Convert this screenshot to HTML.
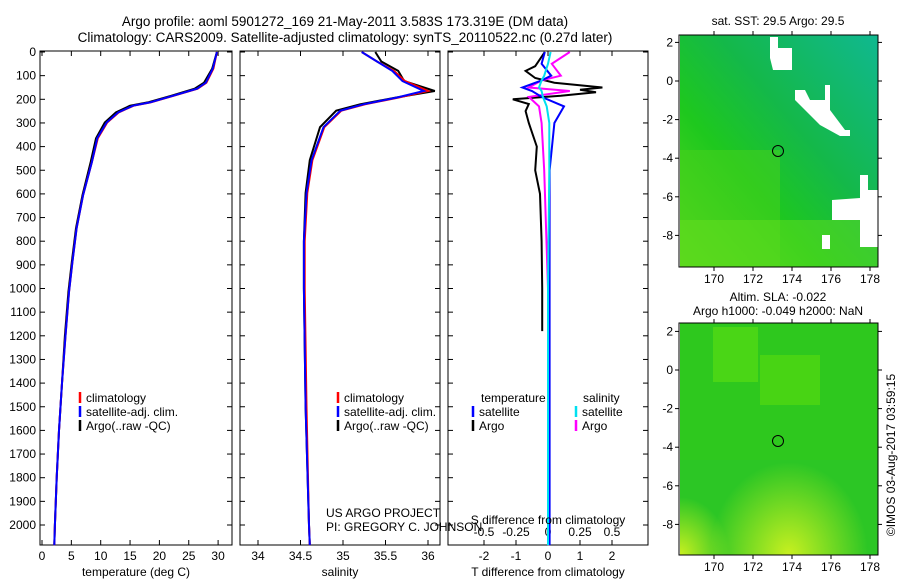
<!DOCTYPE html>
<html><head><meta charset="utf-8"><style>
body{margin:0;background:#fff;}
svg{display:block;font-family:"Liberation Sans",sans-serif;}
</style></head><body>
<svg id="fig" width="900" height="580" viewBox="0 0 900 580" xmlns="http://www.w3.org/2000/svg">
<defs>
<linearGradient id="g1" x1="0" y1="1" x2="1" y2="0">
<stop offset="0" stop-color="#5ad81c"/><stop offset="0.35" stop-color="#1ec81e"/><stop offset="0.6" stop-color="#14b84a"/><stop offset="1" stop-color="#10b890"/></linearGradient>
<radialGradient id="g2" cx="0.55" cy="1" r="0.4"><stop offset="0" stop-color="#c8f020"/><stop offset="1" stop-color="#c8f020" stop-opacity="0"/></radialGradient>
<radialGradient id="g3" cx="0" cy="1" r="0.25"><stop offset="0" stop-color="#c8f020"/><stop offset="1" stop-color="#c8f020" stop-opacity="0"/></radialGradient>
</defs>
<g id="titles" font-size="13.5" fill="#000">
<text x="345" y="26" text-anchor="middle">Argo profile: aoml 5901272_169 21-May-2011 3.583S 173.319E (DM data)</text>
<text x="345" y="42" text-anchor="middle">Climatology: CARS2009. Satellite-adjusted climatology: synTS_20110522.nc (0.27d later)</text>
</g>
<g id="panels"></g>
<g id="maps">
<g>
<text x="778" y="25" font-size="12" text-anchor="middle">sat. SST: 29.5 Argo: 29.5</text>
<rect x="680" y="35" width="198" height="232" fill="url(#g1)"/>
<rect x="680" y="150" width="100" height="117" fill="#4ad21c" opacity="0.5"/>
<rect x="680" y="220" width="198" height="47" fill="#6ae020" opacity="0.45"/>
<polygon points="770,37 778,37 778,48 792,48 792,70 773,70 770,58" fill="#fff"/>
<polygon points="795,90 805,90 810,100 825,100 825,85 830,85 830,110 845,130 850,130 850,136 840,136 820,125 805,110 795,100" fill="#fff"/>
<polygon points="860,175 868,175 868,190 878,190 878,247 860,247 860,220 832,220 832,200 860,198" fill="#fff"/>
<rect x="822" y="235" width="8" height="14" fill="#fff"/>
<circle cx="778" cy="151" r="5.5" fill="none" stroke="#000"/>
</g>
<g>
<text x="778" y="301" font-size="12" text-anchor="middle">Altim. SLA: -0.022</text>
<text x="778" y="315" font-size="12" text-anchor="middle">Argo h1000: -0.049 h2000: NaN</text>
<rect x="680" y="323" width="198" height="232" fill="#2ec81e"/>
<rect x="713" y="327" width="45" height="55" fill="#4ad616"/>
<rect x="760" y="355" width="60" height="50" fill="#48d414"/>
<rect x="680" y="460" width="198" height="95" fill="#2cc42a" opacity="0.6"/>
<rect x="680" y="323" width="198" height="232" fill="url(#g2)"/>
<rect x="680" y="323" width="198" height="232" fill="url(#g3)"/>
<circle cx="778" cy="441" r="5.5" fill="none" stroke="#000"/>
</g>
<text transform="translate(895,455) rotate(-90)" font-size="12" text-anchor="middle">©IMOS 03-Aug-2017 03:59:15</text>
</g>
</svg>
<script>
// Temperature profile data
const presT = [0,70,130,155,185,213,227,255,298,365,465,605,745,885,1015,1200,1400,1600,1800,2000,2085];
const tempArgo = [29.8,29.0,27.6,26.0,22.0,18.0,15.0,12.6,10.7,9.2,8.3,6.9,5.8,5.1,4.5,3.9,3.4,2.9,2.5,2.2,2.1];
const tempClim = [29.8,29.2,28.0,26.5,22.4,18.5,15.6,13.1,11.1,9.5,8.5,7.0,5.9,5.2,4.6,4.0,3.4,2.9,2.5,2.2,2.1];
const tempSat = [29.8,29.1,27.9,26.4,22.3,18.4,15.5,13.0,11.0,9.4,8.5,7.0,5.9,5.2,4.6,4.0,3.4,2.9,2.5,2.2,2.1];
// Salinity profile data
const presS = [0,40,80,123,165,193,221,248,318,457,596,800,1000,1500,2000,2085];
const salArgo = [35.38,35.45,35.65,35.72,36.08,35.62,35.2,34.92,34.73,34.61,34.56,34.54,34.54,34.56,34.6,34.61];
const salClim = [35.22,35.4,35.6,35.73,36.0,35.65,35.26,34.98,34.78,34.64,34.58,34.55,34.55,34.57,34.6,34.61];
const salSat = [35.22,35.4,35.58,35.7,35.95,35.63,35.24,34.97,34.77,34.63,34.57,34.54,34.54,34.56,34.6,34.61];
// Difference data
const presDT = [0,60,80,110,130,150,160,170,185,200,220,250,300,400,500,600,800,1000,1180];
const dTArgo = [-0.1,-0.4,-0.7,-0.4,0.2,1.7,1.0,1.5,0.4,-1.1,-0.6,-0.7,-0.6,-0.35,-0.4,-0.25,-0.2,-0.18,-0.18];
const presD = [0,50,100,120,150,165,190,230,300,500,1000,1500,2085];
const dTSat = [-0.1,-0.2,0.1,-0.2,-0.8,-0.5,-0.2,0.5,0.2,0.05,0.05,0.05,0.05];
const dSArgo = [0.17,0.03,0.1,-0.05,-0.15,0.17,-0.15,-0.07,-0.05,-0.03,0.0,0.01,0.005];
const dSSat = [0.02,0.0,-0.03,-0.05,-0.07,-0.05,-0.04,-0.01,0.01,0.01,0.0,0.0,0.0];
const yTicks = [0,100,200,300,400,500,600,700,800,900,1000,1100,1200,1300,1400,1500,1600,1700,1800,1900,2000];
const tTicks = [0,5,10,15,20,25,30];
const sTicks = [34,34.5,35,35.5,36];
const dTTicks = [-2,-1,0,1,2];
const dSTicks = [-0.5,-0.25,0,0.25,0.5];
const dSLabels = ['-0.5','-0.25','0','0.25','0.5'];

const NS='http://www.w3.org/2000/svg';
const root=document.getElementById('panels');
const top0=51, bot=545;
const yP = p => 52 + p*0.2365;
function mk(tag,attrs,parent){const e=document.createElementNS(NS,tag);for(const k in attrs)e.setAttribute(k,attrs[k]);(parent||root).appendChild(e);return e;}
function panel(x0,x1,name){
  const g=mk('g',{});
  
  
  mk('rect',{x:x0,y:top0,width:x1-x0,height:bot-top0,fill:'none',stroke:'#000','stroke-width':1},g);
  return g;
}
function line(g,xs,ps,xf,color,name,w){
  const pts=xs.map((v,i)=>xf(v).toFixed(1)+','+yP(ps[i]).toFixed(1)).join(' ');
  const e=mk('polyline',{points:pts,fill:'none',stroke:color,'stroke-width':w||2},g);
  
  
}
function xTicks(g,vals,xf,ly,labels){
  vals.forEach((v,i)=>{const x=xf(v);
    mk('line',{x1:x,x2:x,y1:bot,y2:bot-5,stroke:'#000'},g);
    mk('line',{x1:x,x2:x,y1:top0,y2:top0+5,stroke:'#000'},g);
    if(ly){const t=mk('text',{x:x,y:ly,'font-size':12,'text-anchor':'middle'},g);t.textContent=labels?labels[i]:String(v);
      
      }
  });
}
function yTickMarks(g,x0,x1,labels){
  yTicks.forEach(p=>{const y=yP(p);
    mk('line',{x1:x0,x2:x0+5,y1:y,y2:y,stroke:'#000'},g);
    mk('line',{x1:x1,x2:x1-5,y1:y,y2:y,stroke:'#000'},g);
    if(labels){const t=mk('text',{x:x0-4,y:y+4,'font-size':12,'text-anchor':'end'},g);t.textContent=p;
      
      }
  });
}
function txt(g,x,y,s,name,anchor){const t=mk('text',{x:x,y:y,'font-size':12,'text-anchor':anchor||'start'},g);t.textContent=s;
  
  return t;}
function legItem(g,x,y,color,label){mk('line',{x1:x,x2:x,y1:y-10,y2:y+1,stroke:color,'stroke-width':2.5},g);txt(g,x+6,y,label,'legend-entry');}

// Panel 1 temperature
const xT=v=>42+v*5.87;
const p1=panel(40,232,'temperature-panel');
yTickMarks(p1,40,232,true);
xTicks(p1,tTicks,xT,560);
line(p1,tempArgo,presT,xT,'#000','argo-temperature-line');
line(p1,tempClim,presT,xT,'#f00','clim-temperature-line');
line(p1,tempSat,presT,xT,'#0000ff','sat-temperature-line');
txt(p1,136,576,'temperature (deg C)','x-axis-title','middle');
legItem(p1,80,402,'#f00','climatology');legItem(p1,80,416,'#00f','satellite-adj. clim.');legItem(p1,80,430,'#000','Argo(..raw -QC)');

// Panel 2 salinity
const xS=v=>258+(v-34)*85;
const p2=panel(240,440,'salinity-panel');
yTickMarks(p2,240,440,false);
xTicks(p2,sTicks,xS,560,['34','34.5','35','35.5','36']);
line(p2,salArgo,presS,xS,'#000','argo-salinity-line');
line(p2,salClim,presS,xS,'#f00','clim-salinity-line');
line(p2,salSat,presS,xS,'#0000ff','sat-salinity-line');
txt(p2,340,576,'salinity','x-axis-title','middle');
legItem(p2,338,402,'#f00','climatology');legItem(p2,338,416,'#00f','satellite-adj. clim.');legItem(p2,338,430,'#000','Argo(..raw -QC)');
txt(p2,326,517,'US ARGO PROJECT','project-label');
txt(p2,326,531,'PI: GREGORY C. JOHNSON','pi-label');

// Panel 3 differences
const xDT=v=>548+v*32, xDS=v=>548+v*128;
const p3=panel(448,648,'difference-panel');
yTickMarks(p3,448,648,false);
xTicks(p3,dTTicks,xDT,560);
dSTicks.forEach((v,i)=>{txt(p3,xDS(v),536,dSLabels[i],'s-diff-tick-label','middle');});
line(p3,dTArgo,presDT,xDT,'#000','argo-t-diff-line');
line(p3,dSArgo,presD,xDS,'#ff00ff','argo-s-diff-line');
line(p3,dTSat,presD,xDT,'#0000ff','sat-t-diff-line');
line(p3,dSSat,presD,xDS,'#00e0f0','sat-s-diff-line');
txt(p3,548,576,'T difference from climatology','x-axis-title','middle');
txt(p3,548,524,'S difference from climatology','s-axis-title','middle');
txt(p3,481,402,'temperature','legend-header');txt(p3,583,402,'salinity','legend-header');
legItem(p3,473,416,'#00f','satellite');legItem(p3,473,430,'#000','Argo');
legItem(p3,576,416,'#00e0f0','satellite');legItem(p3,576,430,'#ff00ff','Argo');

// Map axes
const mapsG=document.getElementById('maps');
const lonX=l=>714+(l-170)*19.5;
const lonTicks=[170,172,174,176,178];
const latTicks=[2,0,-2,-4,-6,-8];
function mapAxes(y0,y1,lat0y,name){
  const g=mk('g',{},mapsG);
  
  
  mk('rect',{x:679,y:y0,width:199,height:y1-y0,fill:'none',stroke:'#000'},g);
  lonTicks.forEach(l=>{const x=lonX(l);mk('line',{x1:x,x2:x,y1:y1,y2:y1+4,stroke:'#000'},g);mk('line',{x1:x,x2:x,y1:y0,y2:y0-4,stroke:'#000'},g);
    const t=mk('text',{x:x,y:y1+16,'font-size':12,'text-anchor':'middle'},g);t.textContent=l;
    
    });
  latTicks.forEach(a=>{const y=lat0y-a*19.3;mk('line',{x1:675,x2:679,y1:y,y2:y,stroke:'#000'},g);mk('line',{x1:878,x2:882,y1:y,y2:y,stroke:'#000'},g);
    const t=mk('text',{x:673,y:y+4,'font-size':12,'text-anchor':'end'},g);t.textContent=a;
    
    });
}
mapAxes(35,267,81,'sst-map-axes');
mapAxes(323,555,370,'sla-map-axes');
</script>
</body></html>
